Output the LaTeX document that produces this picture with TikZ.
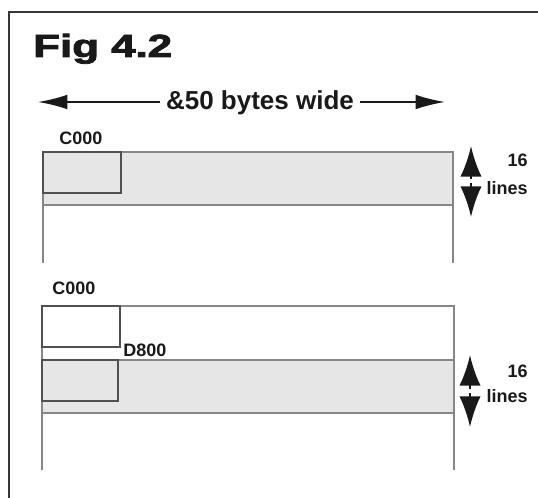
\documentclass[tikz,border=0pt]{standalone}
\usepackage{fontspec}
\setmainfont{Liberation Sans}
\newfontfamily\heavyfont[FakeBold=2.5]{Liberation Sans Bold}
\usetikzlibrary{arrows.meta}
\definecolor{FrameGrey}{RGB}{55,55,55}
\definecolor{LineGrey}{RGB}{135,135,135}
\definecolor{BoxGrey}{RGB}{80,80,80}
\definecolor{ScreenFill}{RGB}{230,230,230}
\definecolor{InkBlack}{RGB}{25,25,25}

\begin{document}
\begin{tikzpicture}[x=0.75pt,y=-0.75pt,
  lbl/.style={font=\bfseries\fontsize{13.5}{14}\selectfont,text=InkBlack,inner sep=0pt},
  band/.style={fill=ScreenFill,draw=LineGrey,line width=0.8pt},
  edge/.style={draw=LineGrey,line width=0.8pt},
  cell/.style={draw=BoxGrey,line width=1pt},
  bigarrow/.style={draw=InkBlack,line width=1.4pt,-{Latex[length=22pt,width=11pt]}},
  tallarrow/.style={draw=InkBlack,line width=1.8pt,-{Latex[length=23pt,width=16pt]}}]
  \useasboundingbox (0,0) rectangle (538,498);
  % frame
  \draw[FrameGrey,line width=2.2pt] (9,498) -- (9,12) -- (538,12);
  \node[anchor=base west,inner sep=0pt,text=InkBlack,font=\heavyfont\fontsize{24}{26}\selectfont] (title) at (33,57) {\scalebox{1.37}[1]{Fig 4.2}};

  % width of the screen
  \node[anchor=base,inner sep=4pt,text=InkBlack,font=\bfseries\fontsize{19.5}{21}\selectfont] (widthlbl) at (260,110) {\&50 bytes wide};
  \coordinate (lefttip) at (38,102);
  \coordinate (righttip) at (445,102);
  \draw[bigarrow] (widthlbl.west |- lefttip) -- (lefttip);
  \draw[bigarrow] (widthlbl.east |- righttip) -- (righttip);

  % first screen: C000 only
  \draw[band] (43,152) rectangle (453,205);
  \draw[edge] (43,205) -- (43,263);
  \draw[edge] (453,205) -- (453,263);
  \draw[cell] (43,152) rectangle (121,193);
  \node[lbl,anchor=base west] (topC) at (59,145) {C000};
  \coordinate (topmid) at (471,181);
  \draw[tallarrow] ([yshift=1.5]topmid) -- ++(0,-33);
  \draw[tallarrow] ([yshift=-1.5]topmid) -- ++(0,34);
  \node[lbl,anchor=base east] (topsixteen) at (528,167) {16};
  \node[lbl,anchor=base east] (toplines) at (528,195) {lines};

  % second screen: C000 and D800
  \draw[edge] (42,470) -- (42,306) -- (454,306) -- (454,470);
  \draw[cell,fill=white] (42,306) rectangle (120,347);
  \draw[band] (42,360) rectangle (454,413);
  \draw[cell] (42,360) rectangle (118,401);
  \node[lbl,anchor=base west] (lowC) at (52,295) {C000};
  \node[lbl,anchor=base west] (lowD) at (123,357) {D800};
  \coordinate (lowmid) at (470,391);
  \draw[tallarrow] ([yshift=1.5]lowmid) -- ++(0,-34);
  \draw[tallarrow] ([yshift=-1.5]lowmid) -- ++(0,34);
  \node[lbl,anchor=base east] (lowsixteen) at (528,378) {16};
  \node[lbl,anchor=base east] (lowlines) at (528,402) {lines};
\end{tikzpicture}
\end{document}
